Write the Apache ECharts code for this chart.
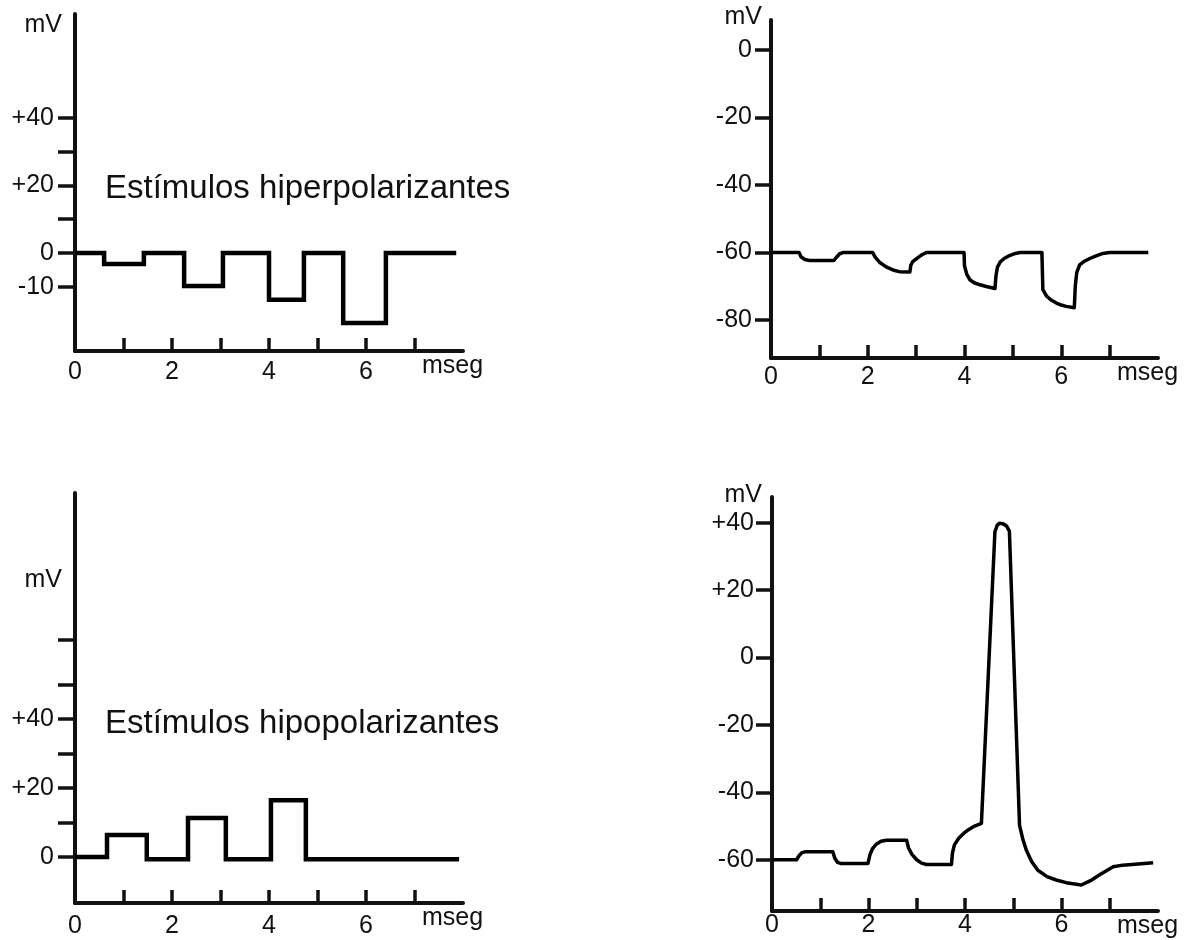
<!DOCTYPE html>
<html>
<head>
<meta charset="utf-8">
<title>Estímulos</title>
<script src="https://cdn.jsdelivr.net/npm/echarts@6/dist/echarts.min.js"></script>
<style>
  body { margin: 0; background: #fff; }
  #chart { width: 1189px; height: 940px; }
</style>
</head>
<body>
<div id="chart"></div>
<script>
// time axis (mseg)
const timeTicks = [1, 2, 3, 4, 5, 6, 7]
const timeLabels = [0, 2, 4, 6]

// top-left: hyperpolarizing stimuli [t, mV]
const hyperStimulus = [
  [0, 0], [0.6, 0], [0.6, -3.2], [1.42, -3.2], [1.42, 0], [2.25, 0], [2.25, -9.7],
  [3.05, -9.7], [3.05, 0], [4.0, 0], [4.0, -13.8], [4.72, -13.8], [4.72, 0],
  [5.53, 0], [5.53, -20.6], [6.41, -20.6], [6.41, 0], [7.86, 0]
]
const hyperTicks = [-10, 0, 10, 20, 30, 40]
const hyperLabels = [-10, 0, 20, 40]

// top-right: membrane response to hyperpolarizing stimuli
const hyperResponse = [
  [0, -60], [0.58, -60], [0.62, -61.3], [0.7, -62.1], [0.8, -62.4], [1.3, -62.4], [1.35, -61.5], [1.42, -60.4], [1.5, -60],
  [2.1, -60], [2.15, -61.3], [2.25, -63], [2.38, -64.3], [2.52, -65.2], [2.65, -65.7], [2.87, -65.8], [2.89, -63.8],
  [2.93, -62.7], [3.03, -61.6], [3.12, -60.7], [3.22, -60],
  [3.99, -60], [4.0, -64], [4.05, -66.6], [4.11, -68.1], [4.2, -69], [4.32, -69.6], [4.45, -70.1], [4.63, -70.7],
  [4.65, -67], [4.68, -64.4], [4.74, -62.8], [4.82, -61.8], [4.92, -61], [5.05, -60.3], [5.15, -60],
  [5.6, -60], [5.62, -71], [5.7, -73], [5.8, -74.2], [5.9, -75], [6.0, -75.6], [6.1, -76], [6.27, -76.4],
  [6.29, -70], [6.32, -66], [6.38, -63.7], [6.48, -62.6], [6.59, -61.8], [6.72, -61], [6.86, -60.3], [7.0, -60], [7.8, -60]
]
const responseTicks = [0, -20, -40, -60, -80]

// bottom-left: hypopolarizing (depolarizing) stimuli
const hypoStimulus = [
  [0, 0], [0.66, 0], [0.66, 6.4], [1.48, 6.4], [1.48, -0.6], [2.33, -0.6], [2.33, 11.3],
  [3.11, 11.3], [3.11, -0.6], [4.04, -0.6], [4.04, 16.5], [4.76, 16.5], [4.76, -0.6], [7.92, -0.6]
]
const hypoTicks = [0, 10, 20, 30, 40, 50, 63]
const hypoLabels = [0, 20, 40]

// bottom-right: response with action potential
const actionResponse = [
  [0, -60], [0.51, -60], [0.56, -58.8], [0.62, -57.9], [0.7, -57.6], [1.26, -57.6], [1.3, -59.5], [1.36, -60.8], [1.42, -61.1],
  [1.99, -61.1], [2.03, -58.5], [2.08, -56.8], [2.16, -55.4], [2.26, -54.5], [2.37, -54.2], [2.79, -54.2], [2.83, -56.5],
  [2.9, -58.4], [3.0, -60], [3.1, -61], [3.2, -61.4], [3.72, -61.4], [3.74, -58], [3.78, -55.6], [3.87, -53.6],
  [3.97, -52.2], [4.08, -51], [4.2, -50], [4.34, -49.2], [4.62, 37.3], [4.67, 39.3], [4.72, 39.8], [4.8, 39.6],
  [4.86, 39.0], [4.92, 37.5], [5.13, -49.7], [5.2, -54], [5.27, -57.1], [5.38, -60.5], [5.51, -63.1], [5.7, -65],
  [5.89, -66], [6.1, -66.8], [6.41, -67.5], [6.6, -66.2], [6.8, -64.4], [7.07, -62.1], [7.27, -61.6], [7.9, -60.9]
]
const actionTicks = [40, 20, 0, -20, -40, -60]

const FONT = 'Liberation Sans, Arial, Helvetica, sans-serif'
const INK = '#111'
const SIZE = 25

function signed(v) {
  return v > 0 ? '+' + v : String(v)
}

function xAxisFor(gridIndex, labelMargin) {
  return {
    type: 'value',
    gridIndex: gridIndex,
    min: 0,
    max: 8,
    name: 'mseg',
    nameLocation: 'end',
    nameGap: -41,
    nameTextStyle: { color: INK, fontFamily: FONT, fontSize: SIZE, align: 'left', verticalAlign: 'top', padding: [3, 0, 0, 0] },
    axisLine: { show: true, onZero: false, lineStyle: { color: INK, width: 4 } },
    axisTick: { show: true, inside: true, length: 13, customValues: timeTicks, lineStyle: { color: INK, width: 3.5 } },
    axisLabel: { customValues: timeLabels, margin: labelMargin, color: INK, fontFamily: FONT, fontSize: SIZE },
    splitLine: { show: false }
  }
}

function yAxisFor(gridIndex, min, max, ticks, labels, opts) {
  return {
    type: 'value',
    gridIndex: gridIndex,
    min: min,
    max: max,
    name: 'mV',
    nameLocation: 'end',
    nameGap: opts.nameGap,
    nameTextStyle: { color: INK, fontFamily: FONT, fontSize: SIZE, align: 'right', verticalAlign: 'middle', padding: [0, opts.namePad, 0, 0] },
    axisLine: { show: true, onZero: false, lineStyle: { color: INK, width: 4 } },
    axisTick: { show: true, inside: false, length: opts.tickLen, customValues: ticks, lineStyle: { color: INK, width: 3.5 } },
    axisLabel: { customValues: labels, margin: opts.labelMargin, color: INK, fontFamily: FONT, fontSize: SIZE, formatter: signed },
    splitLine: { show: false }
  }
}

function traceFor(index, data, width, join) {
  return {
    type: 'line',
    xAxisIndex: index,
    yAxisIndex: index,
    data: data,
    showSymbol: false,
    symbol: 'none',
    clip: false,
    lineStyle: { color: '#000', width: width, join: join },
    emphasis: { disabled: true }
  }
}

const chart = echarts.init(document.getElementById('chart'))
chart.setOption({
  backgroundColor: '#fff',
  animation: false,
  grid: [
    { left: 75, top: 14, width: 388, height: 337, outerBoundsMode: 'none' },
    { left: 771, top: 20, width: 387, height: 338, outerBoundsMode: 'none' },
    { left: 75, top: 493, width: 388, height: 410, outerBoundsMode: 'none' },
    { left: 772, top: 497, width: 386, height: 414, outerBoundsMode: 'none' }
  ],
  xAxis: [
    xAxisFor(0, 9),
    xAxisFor(1, 7),
    xAxisFor(2, 11),
    xAxisFor(3, 2)
  ],
  yAxis: [
    yAxisFor(0, -28.9, 70.6, hyperTicks, hyperLabels, { nameGap: -11.5, namePad: 13, tickLen: 17, labelMargin: 21 }),
    yAxisFor(1, -91.3, 8.9, responseTicks, responseTicks, { nameGap: 2.5, namePad: 9, tickLen: 16, labelMargin: 19 }),
    yAxisFor(2, -13.3, 105.5, hypoTicks, hypoLabels, { nameGap: -87, namePad: 13, tickLen: 17, labelMargin: 21 }),
    yAxisFor(3, -75.2, 47.6, actionTicks, actionTicks, { nameGap: 2, namePad: 10, tickLen: 16, labelMargin: 18 })
  ],
  graphic: [
    { type: 'text', left: 105, top: 172, style: { text: 'Estímulos hiperpolarizantes', fill: INK, font: '33px ' + FONT } },
    { type: 'text', left: 105, top: 707, style: { text: 'Estímulos hipopolarizantes', fill: INK, font: '33px ' + FONT } }
  ],
  series: [
    traceFor(0, hyperStimulus, 4.5, 'miter'),
    traceFor(1, hyperResponse, 3.5, 'round'),
    traceFor(2, hypoStimulus, 4.5, 'miter'),
    traceFor(3, actionResponse, 3.5, 'round')
  ]
})
</script>
</body>
</html>
